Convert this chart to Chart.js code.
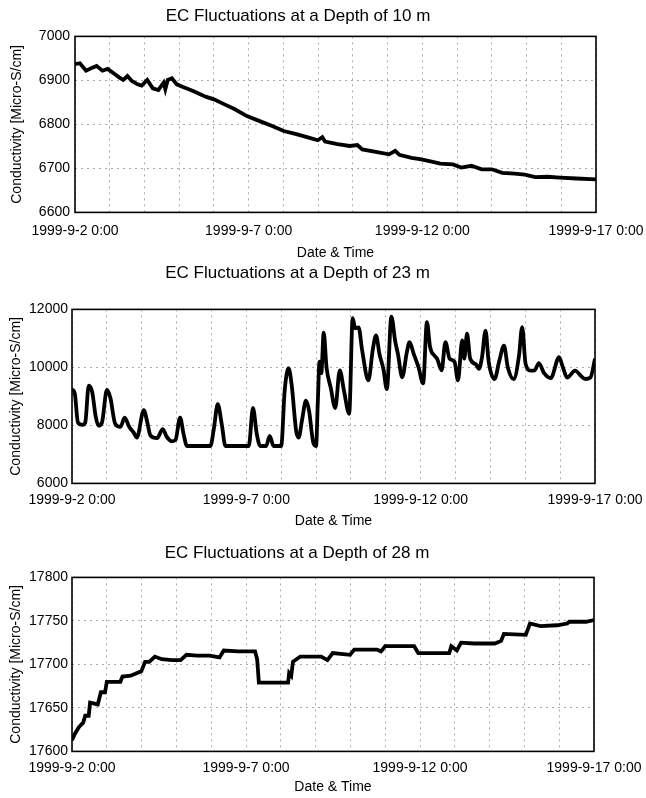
<!DOCTYPE html>
<html>
<head>
<meta charset="utf-8">
<script src="https://cdn.jsdelivr.net/npm/chart.js@4.4.1/dist/chart.umd.min.js"></script>
<style>
  html, body { margin: 0; padding: 0; background: #fff; }
  #page { position: relative; width: 646px; height: 798px; overflow: hidden; }
  #page canvas { position: absolute; left: 0; }
</style>
</head>
<body>
<div id="page">
  <canvas id="c10" width="646" height="264" style="top:0px"></canvas>
  <canvas id="c23" width="646" height="275" style="top:257px"></canvas>
  <canvas id="c28" width="646" height="260" style="top:537px"></canvas>
</div>
<script>
// x axis: days since 1999-9-2 0:00
const tickDays = [0, 5, 10, 15];
const tickLabels = ['1999-9-2 0:00', '1999-9-7 0:00', '1999-9-12 0:00', '1999-9-17 0:00'];

// depth 10 m
const depth10Days = [
  0, 0.14, 0.32, 0.5, 0.62, 0.79, 0.94, 1.15, 1.27, 1.39,
  1.51, 1.63, 1.8, 1.92, 2.08, 2.24, 2.4, 2.55, 2.6, 2.67,
  2.79, 2.93, 3.11, 3.4, 3.76, 4.0, 4.29, 4.59, 4.95, 5.3,
  5.66, 6.01, 6.37, 6.73, 6.99, 7.12, 7.2, 7.56, 7.91, 8.13,
  8.27, 8.62, 9.04, 9.22, 9.34, 9.69, 9.93, 10.17, 10.52, 10.88,
  11.12, 11.41, 11.71, 12.0, 12.3, 12.66, 12.95, 13.25, 13.61, 13.96,
  14.44, 15
];
const depth10Values = [
  6937, 6939, 6922, 6929, 6933, 6922, 6926, 6914, 6907, 6901,
  6910, 6899, 6891, 6888, 6901, 6882, 6878, 6895, 6880, 6901,
  6905, 6891, 6885, 6876, 6863, 6857, 6846, 6835, 6819, 6808,
  6797, 6785, 6778, 6770, 6764, 6771, 6761, 6755, 6751, 6753,
  6743, 6738, 6732, 6740, 6731, 6724, 6721, 6717, 6711, 6709,
  6702, 6706, 6698, 6698, 6690, 6688, 6686, 6680, 6681, 6679,
  6677, 6675
];

// depth 23 m
const depth23Days = [
  0, 0.08, 0.17, 0.3, 0.38, 0.48, 0.58, 0.68, 0.76, 0.86,
  1.0, 1.1, 1.24, 1.39, 1.51, 1.64, 1.77, 1.86, 2.06, 2.16,
  2.25, 2.44, 2.6, 2.72, 2.87, 2.97, 3.1, 3.2, 3.3, 3.97,
  4.07, 4.18, 4.3, 4.4, 5.07, 5.19, 5.3, 5.4, 5.57, 5.67,
  5.78, 6.0, 6.1, 6.21, 6.3, 6.43, 6.5, 6.6, 6.71, 6.8,
  6.92, 7.0, 7.05, 7.1, 7.15, 7.22, 7.3, 7.42, 7.55, 7.68,
  7.8, 7.95, 8.05, 8.12, 8.22, 8.32, 8.5, 8.63, 8.72, 8.82,
  8.93, 9.03, 9.16, 9.27, 9.35, 9.47, 9.6, 9.68, 9.8, 9.94,
  10.07, 10.18, 10.27, 10.4, 10.47, 10.6, 10.71, 10.83, 10.97, 11.07,
  11.19, 11.25, 11.33, 11.42, 11.59, 11.67, 11.76, 11.86, 11.95, 12.12,
  12.25, 12.39, 12.5, 12.67, 12.82, 12.91, 13.01, 13.15, 13.27, 13.39,
  13.54, 13.73, 13.97, 14.08, 14.2, 14.43, 14.6, 14.72, 14.87, 15
];
const depth23Values = [
  9250, 9100, 8100, 8020, 8100, 9370, 9150, 8300, 7990, 8100,
  9220, 8950, 8050, 7950, 8270, 7950, 7750, 7580, 8530, 8100,
  7650, 7560, 7870, 7600, 7450, 7500, 8270, 7700, 7290, 7290,
  7900, 8730, 8000, 7290, 7290, 8600, 7700, 7290, 7290, 7640,
  7290, 7290, 9200, 9970, 9400, 7800, 7580, 8200, 8850, 8500,
  7400, 7290, 8800, 10200, 9800, 11200, 10000, 9300, 8600, 9900,
  9200, 8400, 11700, 11350, 11380, 10600, 9550, 10640, 11100, 10450,
  9950, 9250, 11750, 10900, 10450, 9660, 10500, 10870, 10470, 10000,
  9450, 11560, 10700, 10400, 10300, 9900, 10870, 10300, 10200, 9550,
  10930, 10300, 11160, 10300, 10100, 9950, 10350, 11270, 10200, 9600,
  10200, 10750, 10000, 9600, 10400, 11390, 10120, 9890, 9900, 10150,
  9800, 9630, 10350, 10000, 9650, 9890, 9700, 9600, 9650, 10300
];

// depth 28 m
const depth28Days = [
  0, 0.08, 0.2, 0.32, 0.38, 0.48, 0.52, 0.74, 0.83, 0.95,
  1.0, 1.39, 1.45, 1.69, 1.87, 1.99, 2.1, 2.22, 2.38, 2.58,
  2.88, 3.12, 3.29, 3.59, 3.95, 4.24, 4.36, 4.78, 5.26, 5.32,
  5.37, 6.21, 6.24, 6.3, 6.35, 6.56, 7.16, 7.34, 7.49, 7.99,
  8.11, 8.76, 8.88, 9.0, 9.83, 9.95, 10.84, 10.9, 11.06, 11.18,
  11.56, 12.15, 12.33, 12.41, 13.04, 13.16, 13.46, 13.94, 14.23, 14.29,
  14.77, 15
];
const depth28Values = [
  17613, 17620, 17628, 17633, 17641, 17641, 17656, 17654, 17668, 17668,
  17680, 17680, 17686, 17687, 17690, 17692, 17703, 17703, 17709, 17706,
  17705, 17705, 17711, 17710, 17710, 17708, 17716, 17715, 17715, 17706,
  17679, 17679, 17690, 17687, 17703, 17709, 17709, 17705, 17713, 17711,
  17717, 17717, 17715, 17721, 17721, 17713, 17713, 17721, 17716, 17725,
  17724, 17724, 17727, 17735, 17734, 17747, 17744, 17745, 17747, 17749,
  17749, 17751
];

const FONT = "'Liberation Sans', Arial, sans-serif";

// box around the plot area
const frame = {
  id: 'frame',
  afterDatasetsDraw(chart) {
    const { ctx, chartArea: a } = chart;
    ctx.save();
    ctx.strokeStyle = '#000';
    ctx.lineWidth = 1.6;
    ctx.strokeRect(a.left, a.top, a.right - a.left, a.bottom - a.top);
    ctx.restore();
  }
};

const makeChart = (id, o) => {
  const points = o.days.map((d, i) => ({ x: d, y: o.values[i] }));
  return new Chart(document.getElementById(id), {
    type: 'line',
    data: {
      datasets: [{
        data: points,
        borderColor: '#000',
        borderWidth: 3.8,
        pointRadius: 0,
        tension: o.tension,
        cubicInterpolationMode: o.monotone ? 'monotone' : 'default',
        fill: false
      }]
    },
    plugins: [frame],
    options: {
      responsive: false,
      animation: false,
      layout: { padding: { left: 0, right: o.padRight, top: 0, bottom: 0 } },
      plugins: {
        legend: { display: false },
        tooltip: { enabled: false },
        title: {
          display: true,
          text: o.title,
          color: '#000',
          font: { family: FONT, size: 17, weight: 'normal' },
          padding: { top: 6, bottom: o.titleGap }
        }
      },
      scales: {
        x: {
          type: 'linear',
          min: 0,
          max: 15,
          // invisible tick marks keep the labels off the frame
          grid: { color: '#aaa', drawTicks: true, tickLength: o.xTickPad, tickColor: 'rgba(0,0,0,0)' },
          border: { display: false, dash: [2, 4] },
          ticks: {
            stepSize: 1,
            autoSkip: false,
            maxRotation: 0,
            padding: 0,
            color: '#000',
            font: { family: FONT, size: 14 },
            callback: (v) => {
              const i = tickDays.indexOf(v);
              return i >= 0 ? tickLabels[i] : '';
            }
          },
          title: {
            display: true,
            text: 'Date & Time',
            color: '#000',
            font: { family: FONT, size: 14 },
            padding: { top: o.xTitleTop, bottom: o.xTitleBottom }
          }
        },
        y: {
          min: o.yMin,
          max: o.yMax,
          afterFit: (scale) => { scale.width = o.yWidth; },
          grid: { color: '#aaa', drawTicks: false },
          border: { display: false, dash: [2, 4] },
          ticks: {
            stepSize: o.yStep,
            padding: o.yTickPad,
            color: '#000',
            font: { family: FONT, size: 14 },
            callback: (v) => String(v)
          },
          title: {
            display: true,
            text: 'Conductivity [Micro-S/cm]',
            color: '#000',
            font: { family: FONT, size: 14 },
            padding: { top: o.yTitleTop, bottom: 0 }
          }
        }
      }
    }
  });
};

makeChart('c10', {
  title: 'EC Fluctuations at a Depth of 10 m',
  days: depth10Days, values: depth10Values,
  yMin: 6600, yMax: 7000, yStep: 100,
  tension: 0, monotone: false,
  padRight: 50, yWidth: 75, yTickPad: 5, yTitleTop: 9,
  titleGap: 10, xTickPad: 10, xTitleTop: 6, xTitleBottom: 2
});

makeChart('c23', {
  title: 'EC Fluctuations at a Depth of 23 m',
  days: depth23Days, values: depth23Values,
  yMin: 6000, yMax: 12000, yStep: 2000,
  tension: 0.4, monotone: true,
  padRight: 51, yWidth: 72, yTickPad: 4, yTitleTop: 8,
  titleGap: 26, xTickPad: 8, xTitleTop: 5, xTitleBottom: 2
});

makeChart('c28', {
  title: 'EC Fluctuations at a Depth of 28 m',
  days: depth28Days, values: depth28Values,
  yMin: 17600, yMax: 17800, yStep: 50,
  tension: 0, monotone: false,
  padRight: 52, yWidth: 72, yTickPad: 4, yTitleTop: 8,
  titleGap: 14, xTickPad: 8, xTitleTop: 3, xTitleBottom: 1
});
</script>
</body>
</html>
